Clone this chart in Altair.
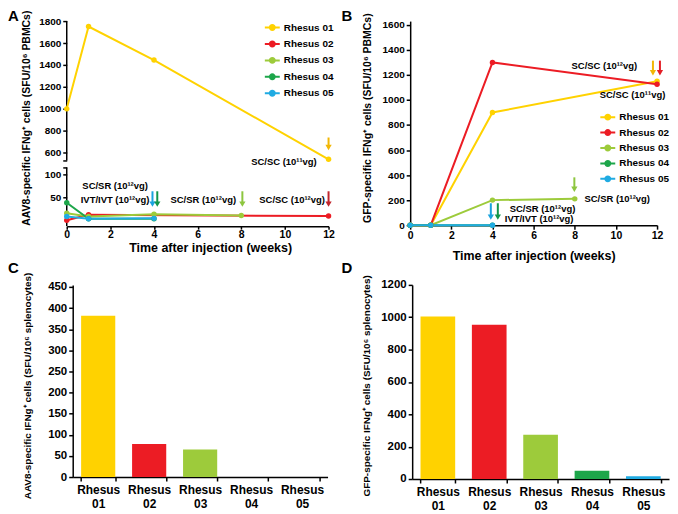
import altair as alt
import pandas as pd

FONT = "Liberation Sans"

series = ["Rhesus 01", "Rhesus 02", "Rhesus 03", "Rhesus 04", "Rhesus 05"]
series_colors = ["#FFD200", "#EC1C24", "#9DCB3B", "#1DA64A", "#20ABE2"]

# ---- Panel A: AAV8-specific IFNg+ cells in PBMCs (broken y axis) ----
a_r01_weeks = [0, 1, 4, 12]
a_r01 = [1000, 1750, 1445, 540]
a_r02_weeks = [0, 1, 12]
a_r02 = [0, 12, 9]
a_r03_weeks = [0, 1, 4, 8]
a_r03 = [15, 8, 13, 10]
a_r04_weeks = [0, 1, 4]
a_r04 = [38, 3, 3]
a_r05_weeks = [0, 1, 4]
a_r05 = [8, 3, 4]

# ---- Panel B: GFP-specific IFNg+ cells in PBMCs ----
b_r01_weeks = [0, 1, 4, 12]
b_r01 = [0, 0, 900, 1150]
b_r02_weeks = [0, 1, 4, 12]
b_r02 = [0, 0, 1300, 1125]
b_r03_weeks = [0, 1, 4, 8]
b_r03 = [0, 0, 200, 210]
b_r04_weeks = [0, 1, 4]
b_r04 = [0, 0, 0]
b_r05_weeks = [0, 1, 4]
b_r05 = [0, 0, 0]

# ---- Panels C and D: splenocytes ----
c_vals = [382, 78, 65, 0, 0]
d_vals = [1005, 954, 273, 51, 17]

# ---- Panel A broken axis: lower segment and upper segment (data units) ----
a_low_range = [-13, 115]
a_up_range = [530, 1800]
a_low_ticks = [50, 100]
a_up_ticks = [600, 800, 1000, 1200, 1400, 1600, 1800]
b_ticks = [0, 200, 400, 600, 800, 1000, 1200, 1400, 1600]
c_ticks = [0, 50, 100, 150, 200, 250, 300, 350, 400, 450]
d_ticks = [0, 200, 400, 600, 800, 1000, 1200]
week_ticks = [0, 2, 4, 6, 8, 10, 12]

# ---- Annotations (data units) ----
a_note_text = ["SC/SC (10¹¹vg)", "SC/SR (10¹²vg)", "IVT/IVT (10¹²vg)", "SC/SR (10¹²vg)", "SC/SC (10¹²vg)"]
a_note_x = [11.46, 3.72, 3.79, 7.76, 11.83]
a_note_y = [512, 74, 43, 43, 43]
a_arrow_x = [12.0, 3.93, 4.15, 8.05, 12.0]
a_arrow_top = [739, 63, 63, 63, 63]
a_arrow_head = [648, 35, 35, 35, 35]
a_arrow_color = ["#F2B705", "#1AA3DE", "#12964A", "#8DC63F", "#C1272D"]

b_note_r_text = ["SC/SC (10¹²vg)", "SC/SC (10¹¹vg)"]
b_note_r_x = [11.03, 12.4]
b_note_r_y = [1274, 1043]
b_note_l_text = ["SC/SR (10¹²vg)", "SC/SR (10¹²vg)", "IVT/IVT (10¹²vg)"]
b_note_l_x = [8.47, 4.84, 4.6]
b_note_l_y = [207, 132, 52]
b_arrow_x = [11.8, 12.14, 7.98, 3.92, 4.26]
b_arrow_top = [1314, 1314, 382, 175, 175]
b_arrow_head = [1218, 1218, 287, 64, 64]
b_arrow_color = ["#F2B705", "#E41E26", "#8DC63F", "#1AA3DE", "#12964A"]

LEG_PATH = "M-1,0H1M-0.33,0A0.33,0.33,0,1,1,0.33,0A0.33,0.33,0,1,1,-0.33,0Z"

# broken-axis mapping: values above the break are compressed onto the upper segment
GAP_T = 15.2
K_UP = 0.2391
T_UP0 = a_low_range[1] + GAP_T


def brk_py(v):
    return T_UP0 + (v - a_up_range[0]) * K_UP if v > 300 else v


def brk_expr(f):
    return (f"datum['{f}'] > 300 ? {T_UP0} + (datum['{f}'] - {a_up_range[0]}) * {K_UP} "
            f": datum['{f}']")


def long_df(names, weeks_list, vals_list):
    rows = []
    for n, w, v in zip(names, weeks_list, vals_list):
        for wi, vi in zip(w, v):
            rows.append({"series": n, "week": wi, "value": vi})
    return pd.DataFrame(rows)


def make_legend(x, y, rp):
    return alt.Legend(title=None, orient="none", legendX=x, legendY=y,
                      symbolType=LEG_PATH, symbolSize=225, symbolStrokeWidth=2,
                      labelFont=FONT, labelFontWeight="bold", labelFontSize=10,
                      labelColor="black", rowPadding=rp, labelOffset=3, padding=0)


def series_layers(df, xkw, ykw, y_field, legend, transform=None):
    sc = alt.Scale(domain=series, range=series_colors)
    x_enc = alt.X("week:Q", **xkw)
    y_enc = alt.Y(f"{y_field}:Q", **ykw)
    line = alt.Chart(df)
    pts = alt.Chart(df)
    if transform:
        line = line.transform_calculate(**transform)
        pts = pts.transform_calculate(**transform)
    line = line.mark_line(strokeWidth=2).encode(
        x=x_enc, y=y_enc, stroke=alt.Stroke("series:N", scale=sc, legend=legend))
    pts = pts.mark_point(filled=True, size=30, opacity=1).encode(
        x=x_enc, y=y_enc, fill=alt.Fill("series:N", scale=sc, legend=legend))
    return [line, pts]


def arrow_layers(xs, tops, heads, colors, xkw, ykw, brk=False):
    df = pd.DataFrame({"x": xs, "top": tops, "head": heads, "c": colors})
    tf = "top"
    hf = "head"
    rule = alt.Chart(df)
    head = alt.Chart(df)
    if brk:
        rule = rule.transform_calculate(tt=brk_expr("top"), hh=brk_expr("head"))
        head = head.transform_calculate(tt=brk_expr("top"), hh=brk_expr("head"))
        tf, hf = "tt", "hh"
    rule = rule.mark_rule(strokeWidth=2).encode(
        x=alt.X("x:Q", **xkw), y=alt.Y(f"{tf}:Q", **ykw), y2=f"{hf}:Q",
        color=alt.Color("c:N", scale=None))
    head = head.mark_point(shape="triangle-down", filled=True, size=40, opacity=1).encode(
        x=alt.X("x:Q", **xkw), y=alt.Y(f"{hf}:Q", **ykw),
        color=alt.Color("c:N", scale=None))
    return [rule, head]


def note_layer(texts, xs, ys, align, xkw, ykw, brk=False):
    df = pd.DataFrame({"t": texts, "x": xs, "y": ys})
    c = alt.Chart(df)
    yf = "y"
    if brk:
        c = c.transform_calculate(yy=brk_expr("y"))
        yf = "yy"
    return c.mark_text(align=align, baseline="middle", font=FONT, fontSize=9.5,
                       fontWeight="bold", color="black").encode(
        x=alt.X("x:Q", **xkw), y=alt.Y(f"{yf}:Q", **ykw), text="t:N")


def panel_label(letter, px, py):
    return alt.Chart(pd.DataFrame({"t": [letter]})).mark_text(
        align="left", baseline="middle", font=FONT, fontSize=15, fontWeight="bold",
        color="black").encode(x=alt.value(px), y=alt.value(py), text="t:N")


RES = dict(x="independent", y="independent", fill="independent",
           stroke="independent", color="independent")

ax_week = alt.Scale(domain=[0, 12], nice=False)

# ---------------- Panel A ----------------
a_top_t = brk_py(a_up_range[1])
a_y = alt.Scale(domain=[a_low_range[0], a_top_t], nice=False, zero=False)
a_tick_vals = [float(v) for v in a_low_ticks] + [float(a_low_range[1]), float(T_UP0)] + \
              [brk_py(v) for v in a_up_ticks]
a_label_expr = (f"datum.value >= {T_UP0 - 0.5} ? "
                f"(round((datum.value - {T_UP0}) / {K_UP} + {a_up_range[0]}) < 560 ? '' : "
                f"format(round((datum.value - {T_UP0}) / {K_UP} + {a_up_range[0]}), 'd')) : "
                f"(datum.value > 110 ? '' : format(datum.value, 'd'))")

a_xkw = dict(scale=ax_week, axis=alt.Axis(
    values=week_ticks, title="Time after injection (weeks)", titleFontSize=12.5,
    titleX=144, titleY=21, titleBaseline="middle", labelFontSize=10.5, labelPadding=0,
    tickSize=3, labelOverlap=False))
# y axis without its domain line; the broken domain line is drawn as two segments
a_ykw = dict(scale=a_y, axis=alt.Axis(
    values=a_tick_vals, labelExpr=a_label_expr, domain=False, labelOverlap=False,
    title="AAV8-specific IFNg⁺ cells (SFU/10⁶ PBMCs)", titleX=-40, titleY=97,
    titleAngle=-90, titleBaseline="middle", titleAlign="center", titleFontSize=10.5,
    labelFontSize=10))

a_df = long_df(series, [a_r01_weeks, a_r02_weeks, a_r03_weeks, a_r04_weeks, a_r05_weeks],
               [a_r01, a_r02, a_r03, a_r04, a_r05])

seg_df = pd.DataFrame({"lo": [a_low_range[0], a_up_range[0]], "hi": [a_low_range[1], a_up_range[1]]})
a_segments = alt.Chart(seg_df).transform_calculate(
    lo2=brk_expr("lo"), hi2=brk_expr("hi")
).mark_rule(strokeWidth=1.5, color="black").encode(
    x=alt.XDatum(0, **a_xkw), y=alt.Y("lo2:Q", **a_ykw), y2="hi2:Q")

panel_a = alt.layer(
    a_segments,
    *series_layers(a_df, a_xkw, a_ykw, "vt", make_legend(198, -2, 1.5), {"vt": brk_expr("value")}),
    *arrow_layers(a_arrow_x, a_arrow_top, a_arrow_head, a_arrow_color, a_xkw, a_ykw, brk=True),
    note_layer(a_note_text, a_note_x, a_note_y, "right", a_xkw, a_ykw, brk=True),
    panel_label("A", -59, -5),
).properties(width=263, height=206)

# ---------------- Panel B ----------------
b_y = alt.Scale(domain=[0, 1630], nice=False)
b_df = long_df(series, [b_r01_weeks, b_r02_weeks, b_r03_weeks, b_r04_weeks, b_r05_weeks],
               [b_r01, b_r02, b_r03, b_r04, b_r05])
b_xkw = dict(scale=ax_week, axis=alt.Axis(
    values=week_ticks, title="Time after injection (weeks)", titleFontSize=12.5,
    titleY=30, titleBaseline="middle", labelFontSize=10.5, labelPadding=1,
    labelOverlap=False))
b_ykw = dict(scale=b_y, axis=alt.Axis(
    values=b_ticks, format="d", labelOverlap=False,
    title="GFP-specific IFNg⁺ cells (SFU/10⁶ PBMCs)", titleX=-43, titleY=97,
    titleAngle=-90, titleBaseline="middle", titleAlign="center", titleFontSize=10.5,
    labelFontSize=10))
panel_b = alt.layer(
    *series_layers(b_df, b_xkw, b_ykw, "value", make_legend(190, 88, 0.5)),
    *arrow_layers(b_arrow_x, b_arrow_top, b_arrow_head, b_arrow_color, b_xkw, b_ykw),
    note_layer(b_note_r_text, b_note_r_x, b_note_r_y, "right", b_xkw, b_ykw),
    note_layer(b_note_l_text, b_note_l_x, b_note_l_y, "left", b_xkw, b_ykw),
    panel_label("B", -69, -5),
).properties(width=248, height=205)

# ---------------- Panels C and D ----------------
bar_df_c = pd.DataFrame({"series": series, "value": c_vals})
bar_df_d = pd.DataFrame({"series": series, "value": d_vals})
bar_fill = alt.Fill("series:N", scale=alt.Scale(domain=series, range=series_colors), legend=None)


def cat_axis():
    return alt.Axis(title=None, labelAngle=0, tickBand="extent",
                    labelExpr="split(datum.label, ' ')", labelFontSize=12,
                    labelLineHeight=13.5, labelPadding=4, labelBaseline="top",
                    labelOverlap=False)


c_bars = alt.Chart(bar_df_c).mark_bar().encode(
    x=alt.X("series:N", sort=series,
            scale=alt.Scale(domain=series, range=[6, 262], paddingInner=0.33, paddingOuter=0.165),
            axis=cat_axis()),
    y=alt.Y("value:Q", scale=alt.Scale(domain=[0, 455], nice=False), axis=alt.Axis(
        values=c_ticks, offset=-6, format="d", labelOverlap=False,
        title="AAV8-specific IFNg⁺ cells (SFU/10⁶ splenocytes)", titleX=-45, titleY=101,
        titleAngle=-90, titleBaseline="middle", titleAlign="center", titleFontSize=10,
        labelFontSize=11.5)),
    fill=bar_fill,
)
panel_c = alt.layer(c_bars, panel_label("C", -59, -17)).properties(width=263, height=193)

d_bars = alt.Chart(bar_df_d).mark_bar().encode(
    x=alt.X("series:N", sort=series,
            scale=alt.Scale(domain=series, range=[2, 260], paddingInner=0.325, paddingOuter=0.1625),
            axis=cat_axis()),
    y=alt.Y("value:Q", scale=alt.Scale(domain=[0, 1200], nice=False), axis=alt.Axis(
        values=d_ticks, format="d", offset=-2, labelOverlap=False,
        title="GFP-specific IFNg⁺ cells (SFU/10⁶ splenocytes)", titleX=-46, titleY=101,
        titleAngle=-90, titleBaseline="middle", titleAlign="center", titleFontSize=10,
        labelFontSize=11.5)),
    fill=bar_fill,
)
panel_d = alt.layer(d_bars, panel_label("D", -69, -17)).properties(width=260, height=195)

chart = alt.concat(
    panel_a, panel_b, panel_c, panel_d, columns=2,
    spacing={"row": 59, "column": 82}, bounds="flush"
).resolve_scale(**RES).properties(
    padding=0
).configure_axis(
    domainColor="black", tickColor="black", labelColor="black", titleColor="black",
    grid=False, labelFont=FONT, titleFont=FONT, labelFontWeight="bold",
    titleFontWeight="bold", domainWidth=1.5, tickWidth=1.5, tickSize=4,
    labelOverlap=False, labelFlush=False
).configure_view(strokeWidth=0)

chart.save("out.html", embed_options={"renderer": "svg", "actions": False})
